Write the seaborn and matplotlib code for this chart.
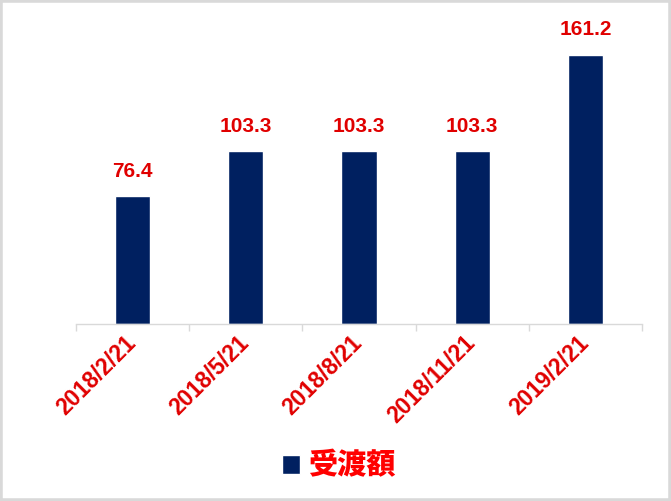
import matplotlib
matplotlib.use("Agg")
import matplotlib.pyplot as plt
import seaborn as sns
import pandas as pd
from matplotlib.patches import Rectangle

dates = ["2018/2/21", "2018/5/21", "2018/8/21", "2018/11/21", "2019/2/21"]
values = [76.4, 103.3, 103.3, 103.3, 161.2]
series_name = "受渡額"

NAVY = "#002060"
RED = "#E00000"
GRID = "#D9D9D9"

sns.set_theme(style="white")
plt.rcParams["font.family"] = ["Liberation Sans", "Noto Sans CJK JP", "DejaVu Sans"]

df = pd.DataFrame({"date": dates, "value": values})

fig = plt.figure(figsize=(6.71, 5.01), dpi=100)
ax = fig.add_axes([0.1133, 0.3533, 0.8435, 0.6002])

sns.barplot(data=df, x="date", y="value", color=NAVY, width=0.31,
            label=series_name, ax=ax, saturation=1)
if ax.get_legend() is not None:
    ax.get_legend().remove()

ax.set_ylim(0, 180)
ax.set_xlim(-0.5, 4.5)
ax.set_xlabel("")
ax.set_ylabel("")
ax.set_yticks([])
for s in ["top", "left", "right"]:
    ax.spines[s].set_visible(False)
ax.spines["bottom"].set_color(GRID)
ax.spines["bottom"].set_linewidth(1)

ax.set_xticks([-0.5, 0.5, 1.5, 2.5, 3.5, 4.5], minor=True)
ax.tick_params(axis="x", which="minor", length=5, color=GRID, width=1, bottom=True)
ax.tick_params(axis="x", which="major", length=0, pad=11)
for lbl in ax.get_xticklabels():
    lbl.set_rotation(45)
    lbl.set_rotation_mode("anchor")
    lbl.set_ha("right")
    lbl.set_va("center")
    lbl.set_color(RED)
    lbl.set_fontweight("bold")
    lbl.set_fontsize(16.5)

ax.bar_label(ax.containers[0], fmt="%.1f", padding=11, color=RED,
             fontweight="bold", fontsize=15)

handles, labels = ax.get_legend_handles_labels()
leg = fig.legend(handles[:1], labels[:1], loc="center", bbox_to_anchor=(0.505, 0.07),
                 frameon=False, handlelength=0.6, handleheight=0.6, handletextpad=0.3,
                 prop={"family": ["Noto Sans CJK JP"], "weight": "heavy", "size": 21})
for t in leg.get_texts():
    t.set_color("#FF0000")

fig.patches.append(Rectangle((0, 0), 1, 1, transform=fig.transFigure,
                             fill=False, edgecolor=GRID, linewidth=4, zorder=10))

fig.savefig("out.png", dpi=100)
